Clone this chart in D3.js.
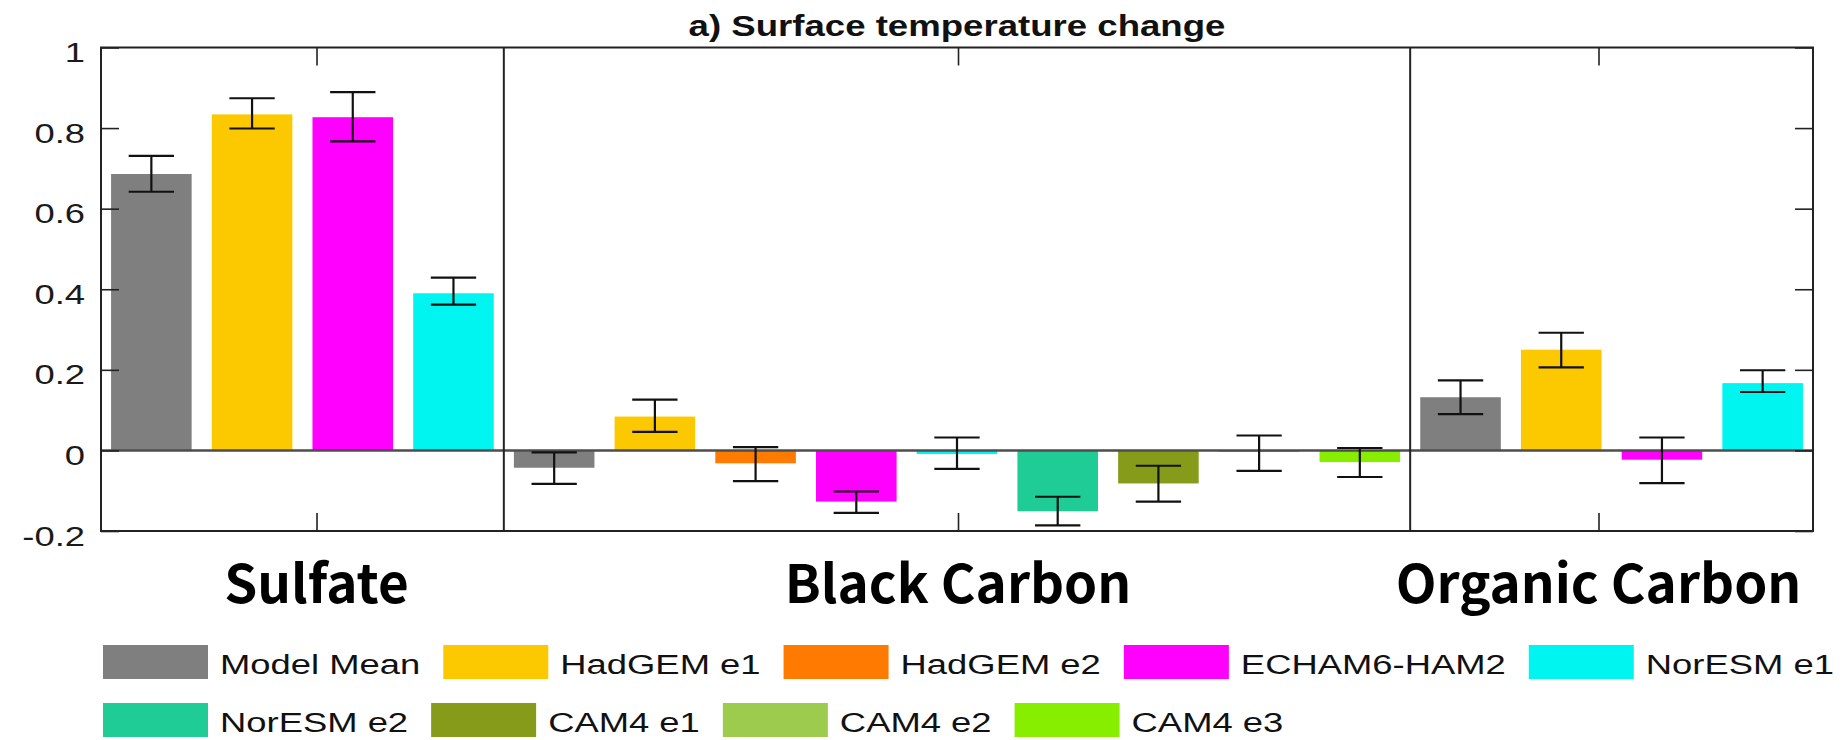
<!DOCTYPE html>
<html>
<head>
<meta charset="utf-8">
<script src="https://cdn.jsdelivr.net/npm/d3@7"></script>
<style>
body { margin: 0; background: #fff; }
svg { display: block; }
</style>
</head>
<body>
<svg id="chart" width="1845" height="740"></svg>
<script>
// models and their colours (legend order)
const models = ['Model Mean', 'HadGEM e1', 'HadGEM e2', 'ECHAM6-HAM2', 'NorESM e1',
                'NorESM e2', 'CAM4 e1', 'CAM4 e2', 'CAM4 e3'];
const modelColors = ['#7f7f7f', '#fcc800', '#ff7a00', '#ff00ff', '#00f5f0',
                     '#1fcc96', '#879b1b', '#9ccb4d', '#88ee00'];

// Sulfate
const sulfateModels = ['Model Mean', 'HadGEM e1', 'ECHAM6-HAM2', 'NorESM e1'];
const sulfateValue  = [0.686, 0.834, 0.827, 0.390];
const sulfateLow    = [0.642, 0.799, 0.767, 0.362];
const sulfateHigh   = [0.731, 0.874, 0.889, 0.429];

// Black carbon
const bcModels = models;
const bcValue  = [-0.043, 0.084, -0.032, -0.127, -0.009, -0.151, -0.082, -0.004, -0.029];
const bcLow    = [-0.083, 0.046, -0.076, -0.155, -0.046, -0.186, -0.127, -0.051, -0.066];
const bcHigh   = [-0.005, 0.126, 0.008, -0.102, 0.032, -0.115, -0.038, 0.037, 0.006];

// Organic carbon
const ocModels = ['Model Mean', 'HadGEM e1', 'ECHAM6-HAM2', 'NorESM e1'];
const ocValue  = [0.132, 0.250, -0.023, 0.167];
const ocLow    = [0.090, 0.206, -0.081, 0.145];
const ocHigh   = [0.174, 0.292, 0.032, 0.199];

const aerosols = ['Sulfate', 'Black Carbon', 'Organic Carbon'];
const yTicks = [-0.2, 0, 0.2, 0.4, 0.6, 0.8, 1];
const xTicks = [2.14, 8.51, 14.87];
const title = 'a) Surface temperature change';

const groups = [
    {name: aerosols[0], models: sulfateModels, value: sulfateValue, low: sulfateLow, high: sulfateHigh},
    {name: aerosols[1], models: bcModels, value: bcValue, low: bcLow, high: bcHigh},
    {name: aerosols[2], models: ocModels, value: ocValue, low: ocLow, high: ocHigh}
];

// flatten into bar slots
let bars = [];
let dividers = [];
let slot = 0;
for (let g of groups){
    if (slot > 0) dividers.push(slot);
    g.models.forEach((m, i) => {
        bars.push({model: m, value: g.value[i], low: g.low[i], high: g.high[i], slot: slot});
        slot++;
    });
}
const nSlots = slot;

const SX = 1.3;  // the original figure text is horizontally stretched
const svg = d3.select('#chart');
const pL = 101, pR = 1813, pT = 47.5, pB = 531;
const sansFont = '"Liberation Sans", Arial, Helvetica, sans-serif';

let x = d3.scaleLinear().domain([0, nSlots]).range([pL, pR]);
let y = d3.scaleLinear().domain([-0.2, 1]).range([pB, pT]);
let color = d3.scaleOrdinal().domain(models).range(modelColors);
let barW = x(0.8) - x(0);
let capW = x(0.45) - x(0);

// bars
svg.append('g').selectAll('rect')
    .data(bars)
    .join('rect')
    .attr('x', d => x(d.slot + 0.5) - barW / 2)
    .attr('width', barW)
    .attr('y', d => y(Math.max(0, d.value)))
    .attr('height', d => Math.abs(y(d.value) - y(0)))
    .attr('fill', d => color(d.model));

// zero line
svg.append('line')
    .attr('x1', pL).attr('x2', pR)
    .attr('y1', y(0)).attr('y2', y(0))
    .attr('stroke', '#4d4d4d')
    .attr('stroke-width', 2.5);

// error bars
let err = svg.append('g').attr('stroke', '#111').attr('stroke-width', 2.2);
for (let b of bars){
    let cx = x(b.slot + 0.5);
    err.append('line').attr('x1', cx).attr('x2', cx).attr('y1', y(b.low)).attr('y2', y(b.high));
    err.append('line').attr('x1', cx - capW / 2).attr('x2', cx + capW / 2).attr('y1', y(b.low)).attr('y2', y(b.low));
    err.append('line').attr('x1', cx - capW / 2).attr('x2', cx + capW / 2).attr('y1', y(b.high)).attr('y2', y(b.high));
}

// axes with inward ticks
let yLeft = svg.append('g')
    .attr('transform', `translate(${pL},0)`)
    .call(d3.axisLeft(y).tickValues(yTicks).tickSizeInner(-18).tickSizeOuter(0).tickPadding(16)
        .tickFormat(d => String(+d.toFixed(1))));
yLeft.selectAll('text')
    .attr('x', -16 / SX)
    .attr('dy', '0.5em')
    .attr('transform', `scale(${SX},1)`)
    .attr('font-family', sansFont)
    .attr('font-size', 28)
    .attr('fill', '#1a1a1a');

let yRight = svg.append('g')
    .attr('transform', `translate(${pR},0)`)
    .call(d3.axisRight(y).tickValues(yTicks).tickSizeInner(-18).tickSizeOuter(0).tickFormat(''));
let xTop = svg.append('g')
    .attr('transform', `translate(0,${pT})`)
    .call(d3.axisTop(x).tickValues(xTicks).tickSizeInner(-18).tickSizeOuter(0).tickFormat(''));
let xBottom = svg.append('g')
    .attr('transform', `translate(0,${pB})`)
    .call(d3.axisBottom(x).tickValues(xTicks).tickSizeInner(-18).tickSizeOuter(0).tickFormat(''));
for (let a of [yLeft, yRight, xTop, xBottom]){
    a.select('.domain').remove();
    a.selectAll('.tick line').attr('stroke', '#222').attr('stroke-width', 1.6);
}

// frame and dividers
svg.append('rect')
    .attr('x', pL).attr('y', pT)
    .attr('width', pR - pL).attr('height', pB - pT)
    .attr('fill', 'none')
    .attr('stroke', '#222')
    .attr('stroke-width', 2);
svg.selectAll('.divider')
    .data(dividers)
    .join('line')
    .attr('class', 'divider')
    .attr('x1', d => x(d)).attr('x2', d => x(d))
    .attr('y1', pT).attr('y2', pB)
    .attr('stroke', '#222')
    .attr('stroke-width', 2);

// title
svg.append('g')
    .attr('transform', `translate(${(pL + pR) / 2},36)`)
    .append('text')
    .attr('transform', 'scale(1.22,1)')
    .attr('text-anchor', 'middle')
    .attr('font-family', sansFont)
    .attr('font-weight', 'bold')
    .attr('font-size', 30)
    .attr('fill', '#111')
    .text(title);

// aerosol labels
svg.selectAll('.aer')
    .data(aerosols)
    .join('text')
    .attr('class', 'aer')
    .attr('x', (d, i) => x(xTicks[i]))
    .attr('y', 603)
    .attr('text-anchor', 'middle')
    .attr('font-family', '"Noto Sans CJK JP", "Noto Sans", sans-serif')
    .attr('font-weight', 'bold')
    .attr('font-size', 53)
    .attr('fill', '#000')
    .text(d => d);

// legend, two flowing rows
const legendRows = [models.slice(0, 5), models.slice(5)];
const rowTop = [645, 703];
legendRows.forEach((row, r) => {
    let cursor = 103;
    for (let m of row){
        svg.append('rect')
            .attr('x', cursor).attr('y', rowTop[r])
            .attr('width', 105).attr('height', 34)
            .attr('fill', color(m));
        let t = svg.append('g')
            .attr('transform', `translate(${cursor + 117},${rowTop[r] + 29})`)
            .append('text')
            .attr('transform', `scale(${SX},1)`)
            .attr('font-family', sansFont)
            .attr('font-size', 28)
            .attr('fill', '#111')
            .text(m);
        cursor += 117 + t.node().getComputedTextLength() * SX + 23;
    }
});
</script>
</body>
</html>
